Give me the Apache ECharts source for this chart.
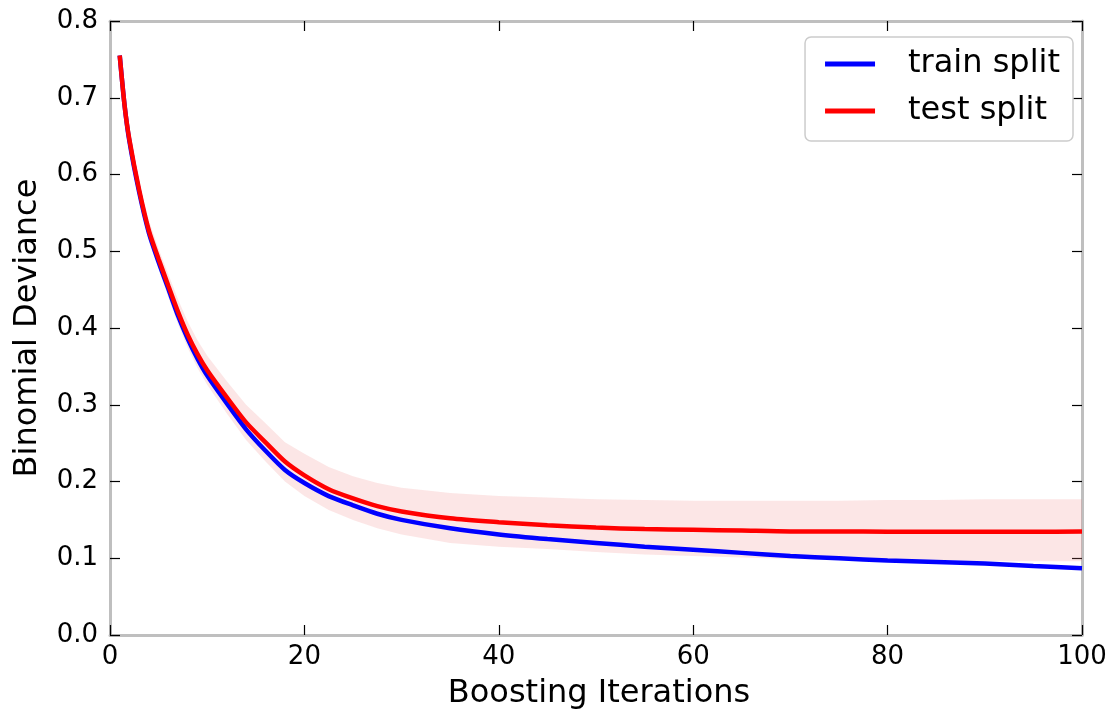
<!DOCTYPE html>
<html>
<head>
<meta charset="utf-8">
<script src="https://cdn.jsdelivr.net/npm/echarts@6/dist/echarts.min.js"></script>
<style>html,body{margin:0;padding:0;background:#fff}#c{width:1112px;height:721px}</style>
</head>
<body>
<div id="c"></div>
<script>
const iterations = [1,1.5,2,3,4,5,6,7,8,9,10,12,14,16,18,20,22.5,25,27.5,30,35,40,45,50,55,60,65,70,75,80,85,90,95,100];
const trainDeviance = [0.755,0.69,0.643,0.577,0.524,0.486,0.451,0.416,0.386,0.36,0.338,0.302,0.268,0.240,0.215,0.198,0.181,0.169,0.158,0.15,0.139,0.131,0.125,0.12,0.115,0.111,0.107,0.103,0.1,0.097,0.095,0.093,0.09,0.087];
const testDeviance = [0.755,0.69,0.645,0.58,0.527,0.49,0.455,0.421,0.391,0.366,0.345,0.31,0.277,0.251,0.226,0.208,0.19,0.178,0.168,0.161,0.152,0.147,0.143,0.14,0.138,0.137,0.136,0.135,0.135,0.1345,0.1345,0.1345,0.1345,0.135];
const testUpper = [0.757,0.694,0.652,0.59,0.54,0.503,0.47,0.437,0.408,0.384,0.364,0.331,0.3,0.276,0.251,0.236,0.219,0.207,0.198,0.192,0.185,0.181,0.179,0.177,0.176,0.175,0.175,0.175,0.175,0.176,0.176,0.177,0.177,0.177];
const testLower = [0.753,0.686,0.638,0.57,0.514,0.477,0.44,0.405,0.374,0.348,0.326,0.289,0.254,0.226,0.2,0.181,0.163,0.15,0.139,0.131,0.12,0.115,0.112,0.108,0.105,0.103,0.101,0.099,0.098,0.097,0.097,0.096,0.096,0.096];
const seriesNames = ['train split', 'test split'];

const FONT = 'DejaVu Sans';
const pair = (ys) => iterations.map((x, i) => [x, ys[i]]);

const chart = echarts.init(document.getElementById('c'), null, {renderer: 'canvas'});
const axisLine = {show: true, onZero: false, lineStyle: {color: '#bfbfbf', width: 3}};
const axisTick = {show: true, inside: true, length: 10, lineStyle: {color: '#000', width: 1.2}};
chart.setOption({
  animation: false,
  backgroundColor: '#fff',
  textStyle: {fontFamily: FONT},
  grid: {left: 110, right: 30, top: 21, bottom: 86, containLabel: false, outerBoundsMode: 'none'},
  legend: {
    data: seriesNames,
    right: 39, top: 37,
    orient: 'vertical',
    icon: 'rect',
    itemWidth: 50, itemHeight: 5,
    itemGap: 15,
    padding: [11, 13, 14, 20],
    backgroundColor: '#fff',
    borderColor: '#cccccc', borderWidth: 1.5, borderRadius: 6,
    textStyle: {fontFamily: FONT, fontSize: 32, color: '#000', padding: [0, 0, 0, 28]}
  },
  xAxis: [
    {type: 'value', min: 0, max: 100, interval: 20, position: 'bottom',
     name: 'Boosting Iterations', nameLocation: 'middle', nameGap: 43,
     nameTextStyle: {fontFamily: FONT, fontSize: 32, color: '#000', padding: [0, 0, 0, 6]},
     axisLine, axisTick, splitLine: {show: false},
     axisLabel: {fontFamily: FONT, fontSize: 26, color: '#000', margin: 9}},
    {type: 'value', min: 0, max: 100, interval: 20, position: 'top',
     axisLine, axisTick, splitLine: {show: false}, axisLabel: {show: false}}
  ],
  yAxis: [
    {type: 'value', min: 0, max: 0.8, interval: 0.1, position: 'left',
     name: 'Binomial Deviance', nameLocation: 'middle', nameGap: 66, nameRotate: 90,
     nameTextStyle: {fontFamily: FONT, fontSize: 32, color: '#000'},
     axisLine, axisTick, splitLine: {show: false},
     axisLabel: {fontFamily: FONT, fontSize: 26, color: '#000', margin: 12, formatter: v => v.toFixed(1)}},
    {type: 'value', min: 0, max: 0.8, interval: 0.1, position: 'right',
     axisLine, axisTick, splitLine: {show: false}, axisLabel: {show: false}}
  ],
  series: [
    {name: 'band', type: 'custom', coordinateSystem: 'cartesian2d', silent: true, z: 1,
     data: iterations.map((x, i) => [x, testLower[i], testUpper[i]]),
     encode: {x: 0, y: [1, 2]},
     renderItem: function (params, api) {
       if (params.dataIndex !== 0) return;
       const up = [], lo = [];
       iterations.forEach((x, i) => {
         up.push(api.coord([x, testUpper[i]]));
         lo.push(api.coord([x, testLower[i]]));
       });
       return {type: 'polygon', shape: {points: up.concat(lo.reverse())},
               style: {fill: 'rgba(240,128,128,0.2)'}};
     }},
    {name: seriesNames[0], type: 'line', data: pair(trainDeviance), symbol: 'none', smooth: 0.25,
     lineStyle: {color: '#0000ff', width: 4.5}, itemStyle: {color: '#0000ff'}, z: 3},
    {name: seriesNames[1], type: 'line', data: pair(testDeviance), symbol: 'none', smooth: 0.25,
     lineStyle: {color: '#ff0000', width: 4.5}, itemStyle: {color: '#ff0000'}, z: 4}
  ]
});
</script>
</body>
</html>
